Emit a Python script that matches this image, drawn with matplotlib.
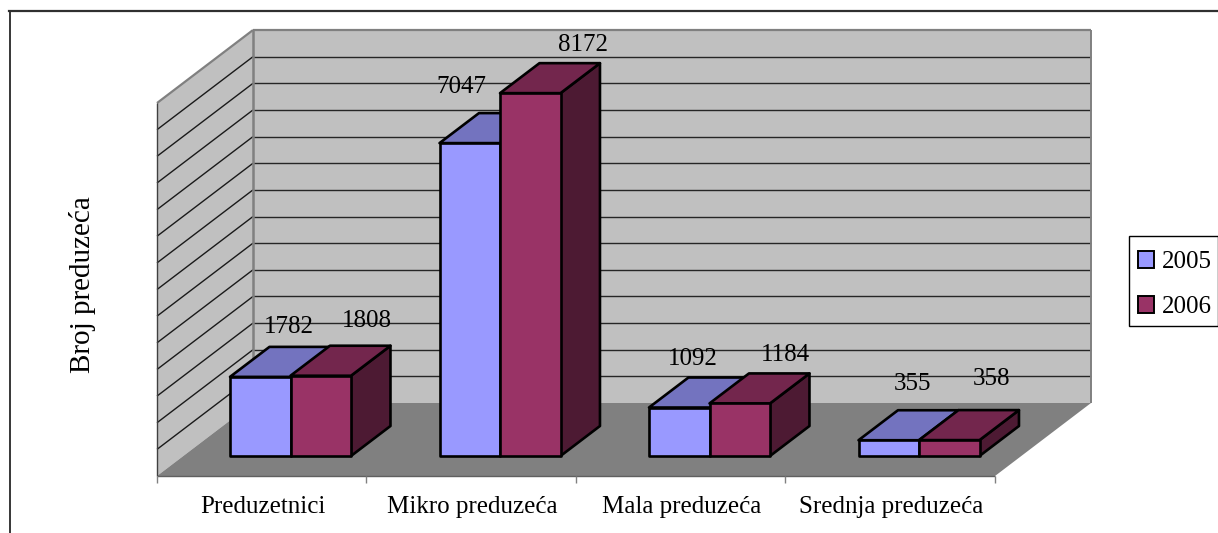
import matplotlib
matplotlib.use("Agg")
import matplotlib.pyplot as plt
from matplotlib.patches import Polygon, Patch, Rectangle

plt.rcParams["font.family"] = ["Liberation Serif", "DejaVu Serif"]

categories = ["Preduzetnici", "Mikro preduzeća", "Mala preduzeća", "Srednja preduzeća"]
years = ["2005", "2006"]
values_2005 = [1782, 7047, 1092, 355]
values_2006 = [1808, 8172, 1184, 358]
grid_values = [600, 1200, 1800, 2400, 3000, 3600, 4200, 4800, 5400, 6000, 6600, 7200, 7800]
wall_top = 8400

# label offsets from top centre of the bar front, in pixels
label_dx_2005 = [29, -8, 14, 24]
label_dy_2005 = [50, 56, 49, 56]
label_dx_2006 = [46, 53, 46, 42]
label_dy_2006 = [55, 48, 48, 61]

front_colors = ["#9999FF", "#993366"]
top_colors = ["#7373BF", "#73264D"]
side_colors = ["#4D1A33", "#4D1A33"]

# scale of the drawing
px_per_cat = 209.5
px_per_val = 0.0444
depth_dx = 96 / px_per_cat
depth_dy = 73 / px_per_val
bar_width = 0.2888
bar_margin = 0.2229
bar_d0 = 0.274
bar_d1 = 0.685


def project(x, v, d=0.0):
    return (x + d * depth_dx, v + d * depth_dy)


def face(ax, corners, color, edge="none", lw=0.0, z=1):
    pts = [project(*c) for c in corners]
    ax.add_patch(Polygon(pts, closed=True, facecolor=color, edgecolor=edge, linewidth=lw,
                         joinstyle="round", zorder=z))


def line(ax, a, b, color, lw, z=2):
    pa, pb = project(*a), project(*b)
    ax.plot([pa[0], pb[0]], [pa[1], pb[1]], color=color, lw=lw, zorder=z, solid_capstyle="butt")


fig = plt.figure(figsize=(12.18, 5.33), dpi=100)
ax = fig.add_axes([0, 0, 1, 1])
ax.set_xlim(-157 / px_per_cat, (1218 - 157) / px_per_cat)
ax.set_ylim(-57 / px_per_val, 476 / px_per_val)
ax.axis("off")

# walls and floor
n = len(categories)
face(ax, [(0, 0, 1), (n, 0, 1), (n, wall_top, 1), (0, wall_top, 1)], "#C0C0C0")
face(ax, [(0, 0, 0), (0, 0, 1), (0, wall_top, 1), (0, wall_top, 0)], "#C0C0C0")
face(ax, [(0, 0, 0), (n, 0, 0), (n, 0, 1), (0, 0, 1)], "#808080", z=1.5)

for g in grid_values:
    line(ax, (0, g, 1), (n, g, 1), "#262626", 1.0)
    line(ax, (0, g, 0), (0, g, 1), "#1a1a1a", 1.0)

line(ax, (0, wall_top, 1), (n, wall_top, 1), "#808080", 1.6)
line(ax, (0, wall_top, 0), (0, wall_top, 1), "#808080", 1.6)
line(ax, (0, 0, 1), (0, wall_top, 1), "#808080", 1.8)
line(ax, (n, 0, 1), (n, wall_top, 1), "#808080", 1.4)
line(ax, (0, 0, 0), (0, wall_top, 0), "#404040", 1.0)
line(ax, (0, 0, 0), (n, 0, 0), "#606060", 1.0)

# x ticks under the floor
for i in range(n + 1):
    line(ax, (i, 0, 0), (i, -7 / px_per_val, 0), "#808080", 1.0)

# bars
for i in range(n):
    for s, vals in enumerate([values_2005, values_2006]):
        x0 = i + bar_margin + s * bar_width
        x1 = x0 + bar_width
        v = vals[i]
        z = 3 + i + s * 0.1
        face(ax, [(x1, 0, bar_d0), (x1, 0, bar_d1), (x1, v, bar_d1), (x1, v, bar_d0)],
             side_colors[s], "black", 1.9, z)
        face(ax, [(x0, v, bar_d0), (x1, v, bar_d0), (x1, v, bar_d1), (x0, v, bar_d1)],
             top_colors[s], "black", 1.9, z)
        face(ax, [(x0, 0, bar_d0), (x1, 0, bar_d0), (x1, v, bar_d0), (x0, v, bar_d0)],
             front_colors[s], "black", 1.9, z)

# value labels
label_sets = [(values_2005, label_dx_2005, label_dy_2005), (values_2006, label_dx_2006, label_dy_2006)]
for s, (vals, dxs, dys) in enumerate(label_sets):
    for i, v in enumerate(vals):
        xy = project(i + bar_margin + (s + 0.5) * bar_width, v, bar_d0)
        ax.annotate(str(v), xy=xy, xytext=(dxs[i], dys[i]), textcoords="offset pixels",
                    ha="center", va="center", fontsize=18, color="black", zorder=20)

for i, c in enumerate(categories):
    ax.text(i + 0.505, -31 / px_per_val, c, ha="center", va="center", fontsize=18, color="black")

ax.text(82 / 1218, 1 - 285 / 533, "Broj preduzeća", transform=fig.transFigure, rotation=90,
        ha="center", va="center", fontsize=21, color="black")

# chart border, only top and left are inside the crop
fig.add_artist(plt.Line2D([9.5 / 1218, 9.5 / 1218], [0, 1 - 11 / 533], color="black", lw=1.1))
fig.add_artist(plt.Line2D([9 / 1218, 1], [1 - 11 / 533, 1 - 11 / 533], color="#303030", lw=1.6))

# legend box is drawn apart so the rows sit where they do in the original
ax.add_patch(Rectangle((1128.5 / 1218, 1 - 326 / 533), 89 / 1218, 90 / 533, transform=fig.transFigure,
                       facecolor="white", edgecolor="black", linewidth=1.0, zorder=25))
handles = [Patch(facecolor=front_colors[k], edgecolor="black", linewidth=1.4) for k in range(2)]
leg = ax.legend(handles, years, loc="upper left", bbox_to_anchor=(1138 / 1218, 1 - 251 / 533),
                bbox_transform=fig.transFigure, fontsize=18, frameon=False,
                handlelength=0.64, handleheight=0.64,
                handletextpad=0.32, labelspacing=0.92, borderpad=0, borderaxespad=0)
leg.set_zorder(30)

fig.savefig("out.png", dpi=100)
